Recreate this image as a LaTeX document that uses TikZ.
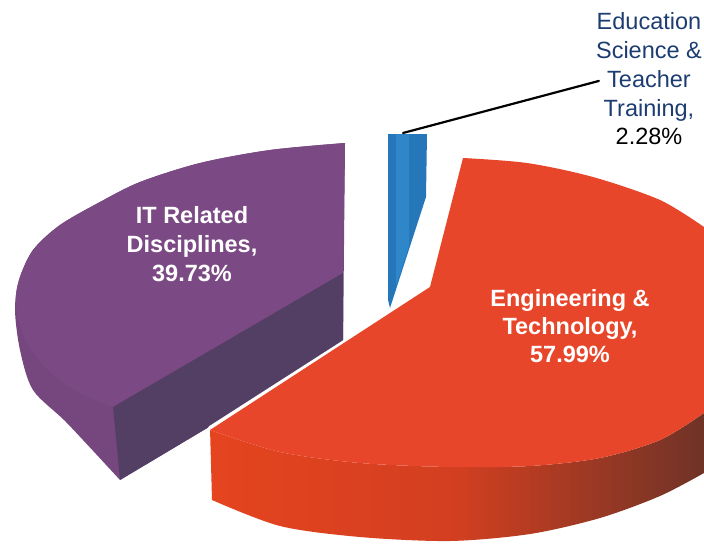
\documentclass[tikz,border=0pt]{standalone}
\usepackage{fontspec}
\setmainfont{Liberation Sans}
\usepackage{tikz}
\definecolor{purpletop}{HTML}{7B4A85}
\definecolor{purpleout}{HTML}{76477F}
\definecolor{purplecut}{HTML}{533F63}
\definecolor{redtop}{HTML}{E8462A}
\definecolor{redside}{HTML}{E5441F}
\definecolor{redmid}{HTML}{D23F20}
\definecolor{redshade}{HTML}{6F3327}
\definecolor{bluetop}{HTML}{2677BA}
\definecolor{bluelight}{HTML}{2F86C8}
\definecolor{navytext}{HTML}{1D3D72}

\begin{document}
\begin{tikzpicture}[line cap=round,line join=round,x=1pt,y=-1pt,
  slicelabel/.style={align=center,text=white,inner sep=0pt,anchor=north,font=\bfseries\fontsize{23.5}{29}\selectfont},
  calloutlabel/.style={align=center,text=navytext,inner sep=0pt,anchor=north,font=\fontsize{23.5}{28.7}\selectfont},
  gap/.style={white,line width=4pt},
  leader/.style={line width=2.2pt}]

\useasboundingbox (0,0) rectangle (704,544);

\fill [purpleout] (345,143) -- plot[smooth] coordinates {(345,143) (270,150) (200,163) (140,182) (100,202) (60,225) (33,250) (19,280) (15,310) (20,350) (33,390) (67,423) (120,480)} -- (343,347) -- cycle;
\fill [purpletop] (343,273) -- plot[smooth] coordinates {(345,143) (270,150) (200,163) (140,182) (100,202) (60,225) (33,250) (19,280) (16,305) (25,340) (50,372) (80,393) (113,407)} -- cycle;
\fill [purplecut] (343,273) -- (113,407) -- (120,480) -- (343,347) -- cycle;

\fill [bluetop] (388,134) -- (427,134) -- (426,197) -- (390,308) -- (388,300) -- cycle;
\fill [bluelight] (396,134) -- (409,134) -- (409,246) -- (396,286) -- cycle;

\draw [gap] (211,502) -- (210,428) -- (430,287) -- (463,158);

\shade [left color=redside,right color=redshade,middle color=redmid] (210,428) -- plot[smooth] coordinates {(210,430) (280,452) (360,463) (450,467) (530,466) (600,458) (660,440) (704,413)} -- (704,473) -- plot[smooth] coordinates {(704,473) (660,496) (600,518) (530,534) (450,541) (360,537) (280,526) (212,500)} -- cycle;
\fill [redtop] (430,287) -- (463,158) -- plot[smooth] coordinates {(463,158) (527,163) (593,177) (660,200) (704,227)} -- (704,413) -- plot[smooth] coordinates {(704,413) (660,440) (600,458) (530,466) (450,467) (360,463) (280,452) (210,430)} -- cycle;

\node (itlabel) [slicelabel] at (192,206) {IT Related\\Disciplines,\\39.73\%};
\node (englabel) [slicelabel,font=\bfseries\fontsize{23.5}{28}\selectfont] at (570,289.5) {Engineering \&\\Technology,\\57.99\%};
\node (edulabel) [calloutlabel] at (649,12.7) {Education\\Science \&\\Teacher\\Training,\\\textcolor{black}{2.28\%}};

\coordinate (edutip) at (403,133);
\draw [leader] (edutip) -- ([shift={(3pt,-2pt)}]edulabel.west);
\end{tikzpicture}
\end{document}
